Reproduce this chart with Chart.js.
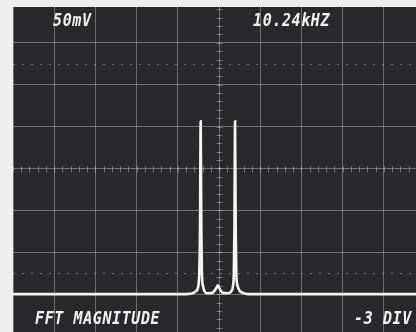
<!DOCTYPE html>
<html>
<head>
<meta charset="utf-8">
<script src="https://cdn.jsdelivr.net/npm/chart.js@4"></script>
<style>
  html, body { margin: 0; padding: 0; overflow: hidden; background: #eeeeec; }
  #wrap { position: relative; width: 416px; height: 332px; overflow: hidden; }
  canvas { position: absolute; left: 0; top: 0; }
  #topStrip { position: absolute; left: 0; top: 0; width: 416px; height: 7px; background: #eeeeec; }
  .lbl { position: absolute; color: #f2f2f2; font-family: "DejaVu Sans Mono", monospace;
         font-weight: bold; font-style: italic; font-size: 15px; line-height: 15px;
         transform-origin: 0 0; transform: scaleY(1.2); white-space: nowrap; letter-spacing: 0.6px; }
</style>
</head>
<body>
<div id="wrap">
  <canvas id="scope" width="430" height="340"></canvas>
  <div id="topStrip"></div>
  <div class="lbl" style="left:53px;top:12px;">50mV</div>
  <div class="lbl" style="left:253px;top:12px;">10.24kHZ</div>
  <div class="lbl" style="left:35px;top:310px;">FFT MAGNITUDE</div>
  <div class="lbl" style="left:354px;top:310px;">-3 DIV</div>
</div>
<script>
// trace, x and y in graticule divisions
const traceX = [0, 4.20, 4.38, 4.45, 4.50, 4.52, 4.54, 4.555, 4.57, 4.585, 4.61, 4.65, 4.71,
                4.84, 4.92, 4.97, 5.02, 5.09, 5.22, 5.30, 5.34, 5.36, 5.375, 5.39, 5.405,
                5.42, 5.45, 5.50, 5.58, 5.70, 10];
const traceY = [1.0, 1.0, 1.03, 1.08, 1.2, 1.5, 2.6, 5.13, 2.6, 1.5, 1.2, 1.07, 1.02,
                1.03, 1.12, 1.21, 1.12, 1.03, 1.02, 1.07, 1.2, 1.5, 2.6, 5.13, 2.6,
                1.5, 1.2, 1.08, 1.03, 1.0, 1.0];
const dottedLevels = [1.5, 6.5];
const xDivs = 10, yDivs = 8;

const points = traceX.map((x, i) => ({ x: x, y: traceY[i] }));

const scopePlugin = {
  id: 'scope',
  beforeDraw(chart) {
    const { ctx, chartArea: a } = chart;
    ctx.save();
    ctx.fillStyle = '#29292b';
    ctx.fillRect(a.left, 0, chart.width - a.left, chart.height);
    ctx.restore();
  },
  beforeDatasetsDraw(chart) {
    const { ctx, chartArea: a, scales: { x, y } } = chart;
    ctx.save();
    ctx.strokeStyle = 'rgba(210,210,210,0.45)';
    ctx.lineWidth = 1;
    // minor ticks on the centre lines
    const cx = Math.round(x.getPixelForValue(xDivs / 2)) + 0.5;
    const cy = Math.round(y.getPixelForValue(yDivs / 2)) + 0.5;
    ctx.beginPath();
    for (let v = 0; v <= yDivs; v += 0.2) {
      const py = Math.round(y.getPixelForValue(v)) + 0.5;
      ctx.moveTo(cx - 3, py); ctx.lineTo(cx + 3, py);
    }
    for (let v = 0; v <= xDivs; v += 0.2) {
      const px = Math.round(x.getPixelForValue(v)) + 0.5;
      ctx.moveTo(px, cy - 3); ctx.lineTo(px, cy + 3);
    }
    ctx.stroke();
    // dotted marker lines
    ctx.setLineDash([2, 7]);
    ctx.strokeStyle = 'rgba(200,200,200,0.4)';
    ctx.beginPath();
    dottedLevels.forEach(v => {
      const py = Math.round(y.getPixelForValue(v)) + 0.5;
      ctx.moveTo(a.left, py); ctx.lineTo(a.right, py);
    });
    ctx.stroke();
    ctx.restore();
  }
};

new Chart(document.getElementById('scope'), {
  type: 'line',
  data: {
    datasets: [{
      data: points,
      borderColor: '#f4f4f2',
      borderWidth: 2.6,
      pointRadius: 0,
      fill: false,
      cubicInterpolationMode: 'monotone'
    }]
  },
  options: {
    responsive: false,
    animation: false,
    layout: { padding: { left: 13, top: 1, right: 5, bottom: 4 } },
    plugins: { legend: { display: false }, tooltip: { enabled: false } },
    scales: {
      x: {
        type: 'linear', min: 0, max: xDivs,
        ticks: { display: false, stepSize: 1 },
        grid: { color: 'rgba(210,210,210,0.42)', lineWidth: 1, drawTicks: false },
        border: { display: false }
      },
      y: {
        type: 'linear', min: 0, max: yDivs,
        ticks: { display: false, stepSize: 1 },
        grid: { color: 'rgba(210,210,210,0.42)', lineWidth: 1, drawTicks: false },
        border: { display: false }
      }
    }
  },
  plugins: [scopePlugin]
});
</script>
</body>
</html>
